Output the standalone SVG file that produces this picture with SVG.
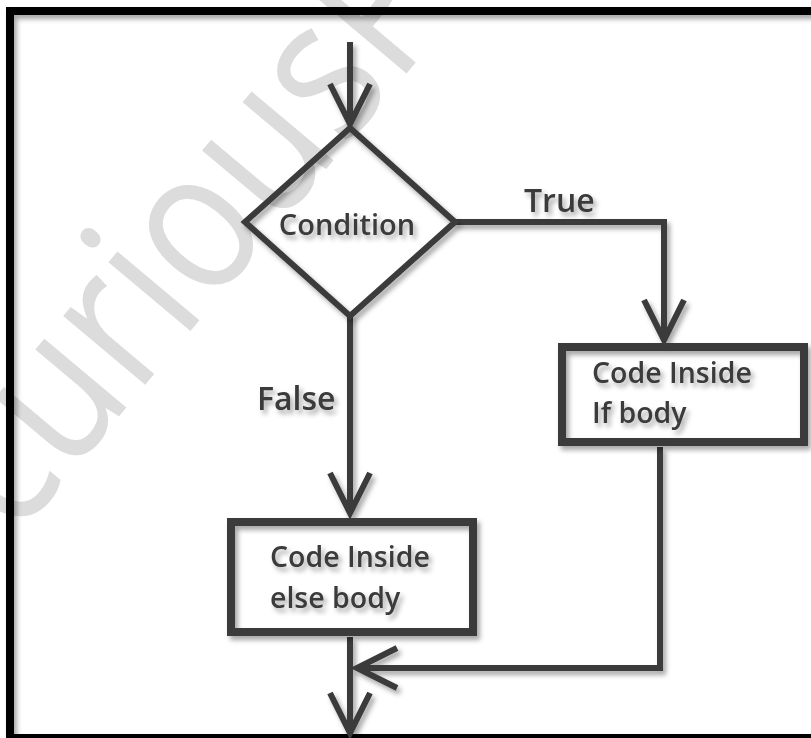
<svg xmlns="http://www.w3.org/2000/svg" width="811" height="738" viewBox="0 0 811 738">
  <style>
    .ln { fill: none; stroke: #3b3b3b; stroke-width: 6; }
    .box { fill: none; stroke: #3b3b3b; stroke-width: 8; }
    .t { font-family: "Open Sans", "Liberation Sans", sans-serif; font-weight: 600; fill: #3a3a3a; }
    .node { font-size: 28.5px; }
    .lbl { font-size: 32px; }
    .wm { font-family: "Open Sans", "Liberation Sans", sans-serif; font-size: 200px; fill: #dcdcdc; }
  </style>
  <defs>
    <filter id="soft" x="-20%" y="-20%" width="140%" height="140%">
      <feDropShadow dx="3" dy="4" stdDeviation="2.5" flood-color="#000" flood-opacity="0.35"/>
    </filter>
    <marker id="arrow" markerUnits="userSpaceOnUse" orient="auto" overflow="visible" refX="0" refY="0" markerWidth="50" markerHeight="50">
      <path d="M-40,-20 L0,0 L-40,20" fill="none" stroke="#3b3b3b" stroke-width="6"/>
    </marker>
  </defs>

  <rect width="811" height="738" fill="#fff"/>

  <!-- background watermark -->
  <text class="wm" transform="translate(15,540) rotate(-50) scale(0.86,1)">curiousP</text>

  <!-- outer frame -->
  <rect x="10" y="11" width="820" height="727" fill="none" stroke="#000" stroke-width="8" filter="url(#soft)"/>

  <g id="connectors" filter="url(#soft)">
    <path class="ln" d="M350,42 V124" marker-end="url(#arrow)"/>
    <path class="ln" d="M455,222 H664 V340" marker-end="url(#arrow)"/>
    <path class="ln" d="M350,316 V513" marker-end="url(#arrow)"/>
    <path class="ln" d="M660,447 V668 H357" marker-end="url(#arrow)"/>
    <path class="ln" d="M350,637 V733" marker-end="url(#arrow)"/>
  </g>

  <g id="condition" filter="url(#soft)">
    <polygon class="ln" points="350,128 455,222 350,316 245,222"/>
    <text class="t node" x="347" y="235" text-anchor="middle" style="font-size:29px">Condition</text>
  </g>

  <g id="if-body" filter="url(#soft)">
    <rect class="box" x="562" y="347" width="242" height="95"/>
    <text class="t node" x="592" y="383">Code Inside</text>
    <text class="t node" x="592" y="423">If body</text>
  </g>

  <g id="else-body" filter="url(#soft)">
    <rect class="box" x="231" y="522" width="242" height="110"/>
    <text class="t node" x="270" y="567">Code Inside</text>
    <text class="t node" x="270" y="608">else body</text>
  </g>

  <g id="labels" filter="url(#soft)">
    <text class="t lbl" x="524" y="212">True</text>
    <text class="t lbl" x="257" y="410">False</text>
  </g>
</svg>
